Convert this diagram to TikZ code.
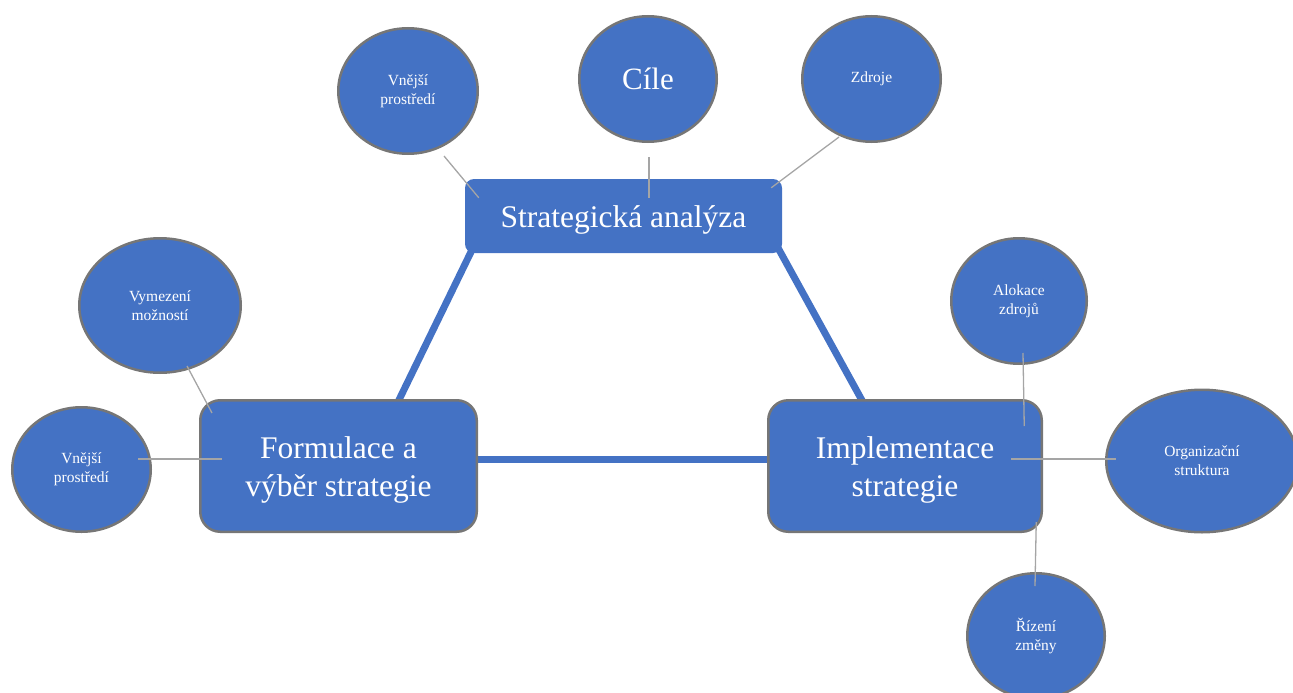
\documentclass[tikz,border=0pt]{standalone}
\usepackage{fontspec}
\setmainfont{Liberation Serif}
\usetikzlibrary{shapes.geometric,backgrounds}
\definecolor{sblue}{HTML}{4472C4}
\definecolor{sborder}{HTML}{767676}
\definecolor{sthin}{HTML}{A5A5A5}
\newcommand{\lowered}[1]{\raisebox{-4pt}[\height][\depth]{#1}}
\newcommand{\twolines}[2]{\lowered{\begin{tabular}{@{}c@{}}#1\\#2\end{tabular}}}
\tikzset{
  bigbox/.style={rectangle, rounded corners=20pt, fill=sblue, draw=sborder, line width=2.5pt,
    inner sep=0pt, text=white, align=center, font=\fontsize{31.5}{38}\selectfont},
  topbox/.style={rectangle, rounded corners=9pt, fill=sblue, draw=none,
    inner sep=0pt, text=white, align=center, font=\fontsize{31.5}{38}\selectfont,
    minimum width=317pt, minimum height=74pt},
  bubble/.style={ellipse, fill=sblue, draw=sborder, line width=2.5pt, inner sep=0pt,
    text=white, align=center, font=\fontsize{15.5}{19}\selectfont},
  thick link/.style={draw=sblue, line width=7pt},
  thin link/.style={draw=sthin, line width=1.3pt},
}
\begin{document}
\begin{tikzpicture}[x=1pt,y=-1pt]
\useasboundingbox (0,0) rectangle (1293,693);
\clip (0,0) rectangle (1293,693);
% main boxes
\node[topbox] (sa) at (623.5,216) {\lowered{Strategická analýza}};
\node[bigbox, minimum width=276.5pt, minimum height=131.5pt] (form) at (338.5,466) {\twolines{Formulace a}{výběr strategie}};
\node[bigbox, minimum width=273.5pt, minimum height=131.5pt] (impl) at (905,466) {\twolines{Implementace}{strategie}};
% thick connectors (behind boxes)
\begin{scope}[on background layer]
\draw[thick link] ([xshift=8pt,yshift=5pt]sa.south west) -- ([xshift=198pt,yshift=-5pt]form.north west);
\draw[thick link] ([xshift=-4pt,yshift=5pt]sa.south east) -- ([xshift=97pt,yshift=-5pt]impl.north west);
\draw[thick link] ([yshift=7pt]form.east) -- ([yshift=7pt]impl.west);
\end{scope}
% bubbles
\node[bubble, minimum width=139.5pt, minimum height=125.5pt] (vp1) at (408,91) {Vnější\\prostředí};
\node[bubble, minimum width=137.5pt, minimum height=125.5pt, font=\fontsize{31}{36}\selectfont] (cile) at (648,79) {Cíle};
\node[bubble, minimum width=138.5pt, minimum height=125.5pt] (zdroje) at (871.5,79) {Zdroje};
\node[bubble, minimum width=161.5pt, minimum height=134.5pt] (vym) at (160,305.5) {Vymezení\\možností};
\node[bubble, minimum width=138.5pt, minimum height=124.5pt] (vp2) at (81.5,469.5) {Vnější\\prostředí};
\node[bubble, minimum width=135.5pt, minimum height=125.5pt] (alok) at (1019,301) {Alokace\\zdrojů};
\node[bubble, minimum width=191.5pt, minimum height=142.5pt] (org) at (1202,461) {Organizační\\struktura};
\node[bubble, minimum width=137.5pt, minimum height=125.5pt] (riz) at (1036,636) {Řízení\\změny};
% thin connectors
\draw[thin link] ([xshift=36pt,yshift=-65pt]vp1.center) -- ([xshift=14pt,yshift=-19pt]sa.north west);
\draw[thin link] ([xshift=1pt,yshift=-14pt]cile.south) -- ([xshift=25.5pt,yshift=-19pt]sa.north);
\draw[thin link] ([xshift=-32.5pt,yshift=6pt]zdroje.south) -- ([xshift=-11pt,yshift=-9pt]sa.north east);
\draw[thin link] ([xshift=27pt,yshift=8pt]vym.south) -- ([xshift=13pt,yshift=-14pt]form.north west);
\draw[thin link] ([xshift=-14pt,yshift=10.5pt]vp2.east) -- ([xshift=23pt,yshift=7pt]form.west);
\draw[thin link] ([xshift=4pt,yshift=12pt]alok.south) -- ([xshift=-18.75pt,yshift=-27pt]impl.north east);
\draw[thin link] ([xshift=-32pt,yshift=7pt]impl.east) -- ([xshift=11pt,yshift=2pt]org.west);
\draw[thin link] ([xshift=-6.75pt,yshift=11pt]impl.south east) -- ([xshift=-1pt,yshift=-14pt]riz.north);
\end{tikzpicture}
\end{document}
